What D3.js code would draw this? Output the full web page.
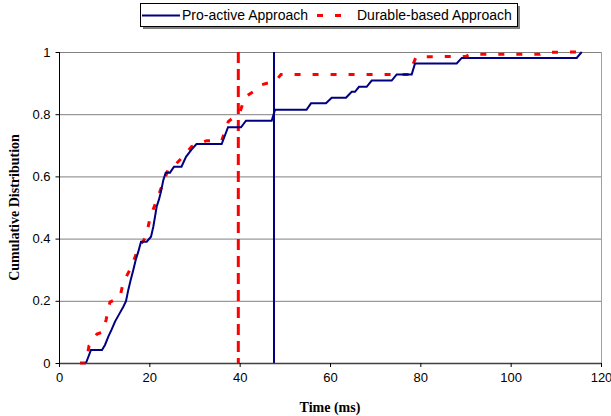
<!DOCTYPE html>
<html>
<head>
<meta charset="utf-8">
<script src="https://cdn.jsdelivr.net/npm/d3@7"></script>
<style>
    body { margin: 0; background: #fff; }
    #chart { width: 611px; height: 416px; }
</style>
</head>
<body>
<div id="chart"></div>
<script>
// Pro-active approach (blue solid)
const proTime = [5.98, 7.08, 9.52, 10.18, 10.92, 11.67, 12.40, 13.51, 14.24, 14.83, 15.34, 15.87, 16.45,
    16.98, 17.56, 18.15, 19.42, 20.37, 20.88, 21.25, 21.63, 22.14, 22.58, 23.09, 23.62, 24.58, 25.46,
    27.12, 28.12, 29.38, 30.44, 36.02, 37.42, 40.30, 41.40, 47.09, 47.82, 54.80, 55.79, 59.11, 60.38,
    63.54, 64.80, 65.53, 66.42, 68.12, 69.23, 73.66, 74.77, 78.09, 78.82, 88.05, 89.16, 114.62, 115.73];
const proCdf = [0, 0.042, 0.042, 0.058, 0.085, 0.108, 0.133, 0.162, 0.181, 0.199, 0.235, 0.267, 0.299,
    0.331, 0.358, 0.390, 0.390, 0.406, 0.438, 0.470, 0.503, 0.526, 0.551, 0.588, 0.612, 0.612, 0.631,
    0.631, 0.663, 0.687, 0.704, 0.704, 0.758, 0.758, 0.779, 0.779, 0.814, 0.814, 0.835, 0.835, 0.853,
    0.853, 0.872, 0.872, 0.888, 0.888, 0.908, 0.908, 0.928, 0.928, 0.963, 0.963, 0.981, 0.981, 1.0];

// Durable-based approach (red dashed)
const durTime = [4.65, 5.98, 6.64, 8.41, 9.74, 10.41, 11.29, 13.5, 14.24, 16.05, 17.49, 19.26, 20.15,
    21.63, 23.03, 24.24, 25.24, 27.17, 28.40, 29.38, 32.70, 36.02, 37.48, 40.07, 41.18, 44.50, 44.94,
    48.04, 49.15, 77.5, 79.04, 90.1, 91.2, 106.5, 107.6, 114.7];
const durCdf = [0, 0, 0.055, 0.093, 0.100, 0.138, 0.196, 0.212, 0.260, 0.309, 0.367, 0.406, 0.466,
    0.524, 0.578, 0.625, 0.630, 0.659, 0.679, 0.696, 0.715, 0.715, 0.776, 0.807, 0.855, 0.887, 0.895,
    0.908, 0.928, 0.928, 0.984, 0.986, 0.993, 0.993, 0.999, 1.0];

// vertical marker lines
const proMark = 47.6;
const durMark = 39.7;

const xTicks = [0, 20, 40, 60, 80, 100, 120];
const yTicks = [0, 0.2, 0.4, 0.6, 0.8, 1];
const seriesNames = ['Pro-active Approach', 'Durable-based Approach'];

const width = 611, height = 416;
const margin = { top: 52, right: 10, bottom: 53, left: 59 };
const chartWidth = width - margin.left - margin.right;
const chartHeight = height - margin.top - margin.bottom;

const svg = d3.select('#chart').append('svg')
    .attr('width', width)
    .attr('height', height);

const x = d3.scaleLinear().domain([0, 120]).range([0, chartWidth]);
const y = d3.scaleLinear().domain([0, 1]).range([chartHeight, 0]);

const g = svg.append('g')
    .attr('transform', `translate(${margin.left}, ${margin.top})`);

// grid lines
g.append('g')
    .selectAll('line')
    .data(yTicks.filter(d => d > 0))
    .enter().append('line')
    .attr('x1', 0)
    .attr('x2', chartWidth)
    .attr('y1', d => y(d) + 0.5)
    .attr('y2', d => y(d) + 0.5)
    .style('stroke', '#808080')
    .style('stroke-width', 1);

// right border of plot area
g.append('line')
    .attr('x1', chartWidth + 0.5).attr('x2', chartWidth + 0.5)
    .attr('y1', 0).attr('y2', chartHeight)
    .style('stroke', '#a0a0a0');

const proData = proTime.map((t, i) => [t, proCdf[i]]);
const durData = durTime.map((t, i) => [t, durCdf[i]]);

const line = d3.line()
    .x(d => x(d[0]))
    .y(d => y(d[1]));

// vertical markers
g.append('line')
    .attr('x1', x(durMark)).attr('x2', x(durMark))
    .attr('y1', y(1)).attr('y2', y(0))
    .style('stroke', '#ff0000')
    .style('stroke-width', 3)
    .style('stroke-dasharray', '11,6');

g.append('line')
    .attr('x1', x(proMark)).attr('x2', x(proMark))
    .attr('y1', y(1)).attr('y2', y(0))
    .style('stroke', '#000080')
    .style('stroke-width', 2);

g.append('path')
    .datum(durData)
    .attr('d', line)
    .style('fill', 'none')
    .style('stroke', '#ff0000')
    .style('stroke-width', 3)
    .style('stroke-dasharray', '6,12');

g.append('path')
    .datum(proData)
    .attr('d', line)
    .style('fill', 'none')
    .style('stroke', '#000080')
    .style('stroke-width', 2);

// axes
const xAxis = d3.axisBottom(x).tickValues(xTicks).tickSize(4).tickPadding(6);
const yAxis = d3.axisLeft(y).tickValues(yTicks).tickSize(4).tickPadding(5)
    .tickFormat(d => d3.format('')(d));

const xg = g.append('g')
    .attr('transform', `translate(0, ${chartHeight})`)
    .call(xAxis);
xg.select('.domain').attr('d', `M0.5,0.5H${chartWidth + 0.5}`).style('stroke', '#404040').style('stroke-width', 1.5);
xg.selectAll('.tick line').style('stroke', '#000');

const yg = g.append('g')
    .attr('transform', 'translate(0.5, 0)')
    .call(yAxis);
yg.select('.domain').attr('d', `M0,0V${chartHeight}`).style('stroke', '#000');

[xg, yg].forEach(a => a.selectAll('text')
    .style('font-family', '"Liberation Sans", Arial, sans-serif')
    .style('font-size', '13px')
    .style('fill', '#000'));

// axis titles
g.append('text')
    .attr('x', chartWidth / 2)
    .attr('y', chartHeight + 49)
    .attr('text-anchor', 'middle')
    .style('font-family', '"Liberation Serif", "Times New Roman", serif')
    .style('font-weight', 'bold')
    .style('font-size', '14px')
    .text('Time (ms)');

g.append('text')
    .attr('transform', 'rotate(-90)')
    .attr('x', -chartHeight / 2)
    .attr('y', -40)
    .attr('text-anchor', 'middle')
    .style('font-family', '"Liberation Serif", "Times New Roman", serif')
    .style('font-weight', 'bold')
    .style('font-size', '14px')
    .text('Cumulative Distribution');

// legend (centred over plot, with drop shadow)
const legend = svg.append('g').attr('transform', 'translate(140, 3)');
legend.append('rect')
    .attr('x', 3).attr('y', 3)
    .attr('width', 377).attr('height', 23)
    .style('fill', '#808080');
legend.append('rect')
    .attr('x', 0.5).attr('y', 0.5)
    .attr('width', 377).attr('height', 23)
    .style('fill', '#fff')
    .style('stroke', '#000');

legend.append('line')
    .attr('x1', 2).attr('x2', 40)
    .attr('y1', 12.5).attr('y2', 12.5)
    .style('stroke', '#000080')
    .style('stroke-width', 2);
legend.append('text')
    .attr('x', 42).attr('y', 17)
    .style('font-family', '"Liberation Sans", Arial, sans-serif')
    .style('font-size', '14px')
    .text(seriesNames[0]);

legend.append('line')
    .attr('x1', 177).attr('x2', 206)
    .attr('y1', 12.5).attr('y2', 12.5)
    .style('stroke', '#ff0000')
    .style('stroke-width', 3)
    .style('stroke-dasharray', '6,12');
legend.append('text')
    .attr('x', 217).attr('y', 17)
    .style('font-family', '"Liberation Sans", Arial, sans-serif')
    .style('font-size', '14px')
    .text(seriesNames[1]);
</script>
</body>
</html>
